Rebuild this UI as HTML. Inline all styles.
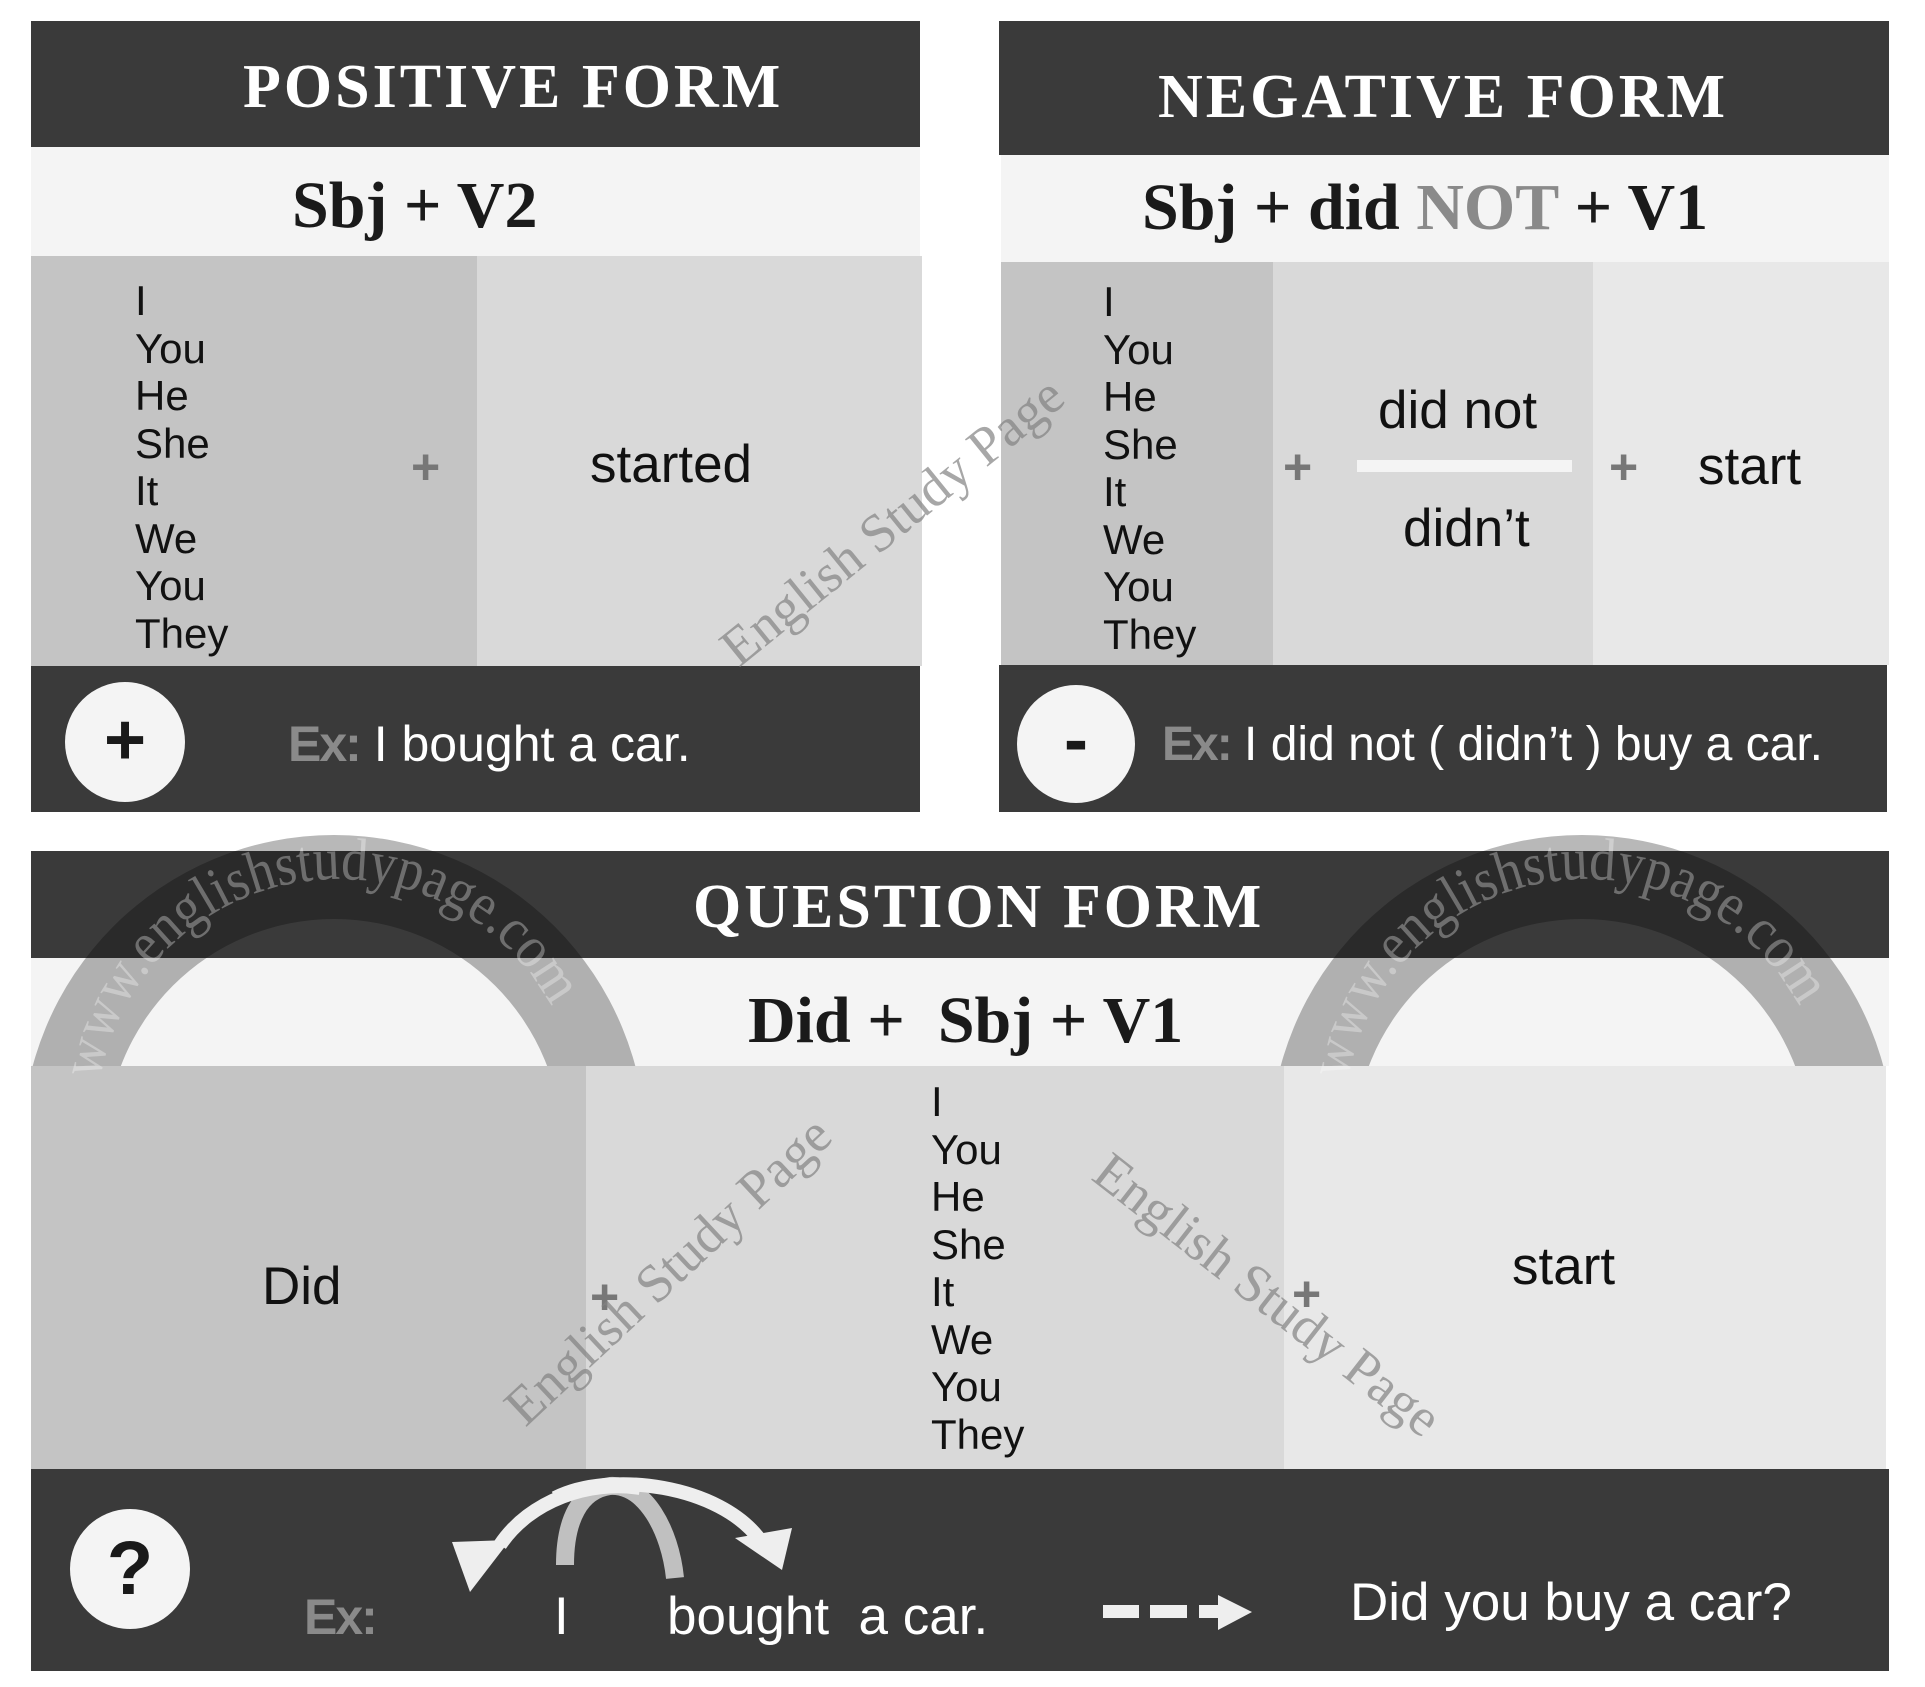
<!DOCTYPE html>
<html><head><meta charset="utf-8"><style>
body{margin:0;width:1925px;height:1687px;background:#fff;position:relative;overflow:hidden;font-family:"Liberation Sans",sans-serif}
.a{position:absolute}
.dk{background:#3a3a3a}
.t{position:absolute;font-family:"Liberation Serif",serif;font-weight:bold;color:#fff;font-size:62px;letter-spacing:3px;white-space:nowrap}
.f{position:absolute;font-family:"Liberation Serif",serif;font-weight:bold;color:#1a1a1a;font-size:66px;white-space:nowrap}
.p{position:absolute;font-size:42px;line-height:47.5px;color:#111}
.b{position:absolute;font-size:53px;color:#111;white-space:nowrap}
.w{position:absolute;font-size:50px;color:#fff;white-space:nowrap}
.ex{color:#8a8a8a;font-weight:bold;letter-spacing:-2px}
.pl{position:absolute;color:#777;font-size:50px;font-weight:bold}
.wm{position:absolute;font-family:"Liberation Serif",serif;font-size:54px;color:rgba(130,130,130,0.7);white-space:nowrap}
.c{position:absolute;background:#f4f4f4;border-radius:50%;color:#1a1a1a;text-align:center;font-weight:bold}
</style></head><body>
<!-- Positive -->
<div class="a dk" style="left:31px;top:21px;width:889px;height:126px"></div>
<div class="t" style="left:243px;top:52px">POSITIVE FORM</div>
<div class="a" style="left:31px;top:147px;width:889px;height:109px;background:#f4f4f4"></div>
<div class="f" style="left:292px;top:168px">Sbj + V2</div>
<div class="a" style="left:31px;top:256px;width:446px;height:410px;background:#c4c4c4"></div>
<div class="a" style="left:477px;top:256px;width:445px;height:410px;background:#d9d9d9"></div>
<div class="p" style="left:135px;top:277px">I<br>You<br>He<br>She<br>It<br>We<br>You<br>They</div>
<div class="pl" style="left:411px;top:438px">+</div>
<div class="b" style="left:590px;top:434px">started</div>
<div class="a dk" style="left:31px;top:666px;width:889px;height:146px"></div>
<div class="c" style="left:65px;top:682px;width:120px;height:120px;font-size:72px;line-height:116px">+</div>
<div class="w" style="left:288px;top:715px"><span class="ex">Ex:</span> I bought a car.</div>
<!-- Negative -->
<div class="a dk" style="left:999px;top:21px;width:890px;height:134px"></div>
<div class="t" style="left:1158px;top:62px">NEGATIVE FORM</div>
<div class="a" style="left:1001px;top:155px;width:888px;height:107px;background:#f4f4f4"></div>
<div class="f" style="left:1142px;top:170px">Sbj + did <span style="color:#8a8a8a">NOT</span> + V1</div>
<div class="a" style="left:1001px;top:262px;width:272px;height:403px;background:#c4c4c4"></div>
<div class="a" style="left:1273px;top:262px;width:320px;height:403px;background:#d9d9d9"></div>
<div class="a" style="left:1593px;top:262px;width:296px;height:403px;background:#e8e8e8"></div>
<div class="p" style="left:1103px;top:278px">I<br>You<br>He<br>She<br>It<br>We<br>You<br>They</div>
<div class="pl" style="left:1283px;top:438px">+</div>
<div class="pl" style="left:1609px;top:438px">+</div>
<div class="b" style="left:1378px;top:380px">did not</div>
<div class="a" style="left:1357px;top:460px;width:215px;height:12px;background:#f4f4f4"></div>
<div class="b" style="left:1403px;top:498px">didn’t</div>
<div class="b" style="left:1698px;top:436px">start</div>
<div class="a dk" style="left:999px;top:665px;width:888px;height:147px"></div>
<div class="c" style="left:1017px;top:685px;width:118px;height:118px;font-size:72px;line-height:110px">-</div>
<div class="w" style="left:1162px;top:717px;font-size:48px"><span class="ex">Ex:</span> I did not ( didn’t ) buy a car.</div>
<!-- Question -->
<div class="a dk" style="left:31px;top:851px;width:1858px;height:107px"></div>
<div class="a" style="left:31px;top:958px;width:1858px;height:108px;background:#f4f4f4"></div>
<div class="t" style="left:693px;top:872px">QUESTION FORM</div>
<div class="f" style="left:748px;top:983px">Did +&nbsp; Sbj + V1</div>
<div class="a" style="left:31px;top:1066px;width:555px;height:403px;background:#c4c4c4"></div>
<div class="a" style="left:586px;top:1066px;width:698px;height:403px;background:#d9d9d9"></div>
<div class="a" style="left:1284px;top:1066px;width:602px;height:403px;background:#e8e8e8"></div>
<div class="b" style="left:262px;top:1256px">Did</div>
<div class="p" style="left:931px;top:1078px">I<br>You<br>He<br>She<br>It<br>We<br>You<br>They</div>
<div class="pl" style="left:590px;top:1268px">+</div>
<div class="pl" style="left:1292px;top:1265px">+</div>
<div class="b" style="left:1512px;top:1236px">start</div>
<!-- rings -->
<svg class="a" style="left:0;top:0;mix-blend-mode:multiply" width="1925" height="1687">
<defs><clipPath id="cl"><rect x="0" y="0" width="1925" height="1066"/></clipPath></defs>
<g clip-path="url(#cl)" fill="#b8b8b8" fill-rule="evenodd">
<path d="M22,1147 A312,312 0 0 1 646,1147 L562,1147 A228,228 0 0 0 106,1147 Z"/>
<path d="M1270,1147 A312,312 0 0 1 1894,1147 L1810,1147 A228,228 0 0 0 1354,1147 Z"/>
</g></svg>
<svg class="a" style="left:0;top:0" width="1925" height="1687">
<defs>
<path id="r1" d="M98,1090 A242,242 0 0 1 578,1090"/>
<path id="r2" d="M1346,1090 A242,242 0 0 1 1826,1090"/>
</defs>
<text font-family="Liberation Serif,serif" font-size="60" fill="rgba(255,255,255,0.32)"><textPath href="#r1" textLength="600" lengthAdjust="spacingAndGlyphs" startOffset="10">www.englishstudypage.com</textPath></text>
<text font-family="Liberation Serif,serif" font-size="60" fill="rgba(255,255,255,0.32)"><textPath href="#r2" textLength="600" lengthAdjust="spacingAndGlyphs" startOffset="10">www.englishstudypage.com</textPath></text>
</svg>
<div class="a dk" style="left:31px;top:1469px;width:1858px;height:202px"></div>
<div class="c" style="left:70px;top:1509px;width:120px;height:120px;font-size:76px;line-height:120px">?</div>
<div class="w" style="left:304px;top:1588px"><span class="ex">Ex:</span></div>
<svg class="a" style="left:0;top:0" width="1925" height="1687">
<path d="M565,1565 C565,1520 580,1490 610,1486 C645,1484 670,1530 675,1578" fill="none" stroke="#c0c0c0" stroke-width="18"/>
<path d="M640,1488 C590,1480 530,1500 500,1545" fill="none" stroke="#eee" stroke-width="14"/>
<polygon points="452,1542 510,1540 470,1592" fill="#eee"/>
<path d="M555,1498 C610,1470 720,1485 760,1540" fill="none" stroke="#eee" stroke-width="14"/>
<polygon points="735,1538 792,1528 782,1570" fill="#eee"/>
<rect x="1103" y="1605" width="36" height="13" fill="#eee"/>
<rect x="1150" y="1605" width="37" height="13" fill="#eee"/>
<rect x="1199" y="1605" width="20" height="13" fill="#eee"/>
<polygon points="1218,1595 1252,1612 1218,1630" fill="#eee"/>
</svg>
<div class="w" style="left:554px;top:1586px;font-size:53px">I</div>
<div class="w" style="left:667px;top:1586px;font-size:53px">bought&nbsp; a car.</div>
<div class="w" style="left:1350px;top:1572px;font-size:53px">Did you buy a car?</div>
<!-- watermarks -->
<div class="wm" style="left:708px;top:630px;transform:rotate(-39deg);transform-origin:0 0">English Study Page</div>
<div class="wm" style="left:492px;top:1392px;transform:rotate(-43deg);transform-origin:0 0">English Study Page</div>
<div class="wm" style="left:1120px;top:1140px;transform:rotate(38deg);transform-origin:0 0">English Study Page</div>
</body></html>
